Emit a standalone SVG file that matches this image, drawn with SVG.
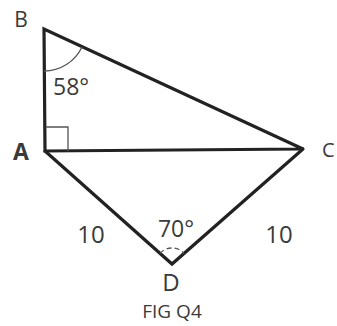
<svg xmlns="http://www.w3.org/2000/svg" width="337" height="326" viewBox="0 0 337 326">
<style>
.edge{stroke:#222;stroke-width:3.2;fill:none;stroke-linejoin:miter;stroke-linecap:round}
.thin{stroke:#555;stroke-width:1.3;fill:none}
.lbl{font-family:"Open Sans","Liberation Sans",sans-serif;fill:#3a3a3a}
</style>
<rect width="337" height="326" fill="#fff"/>
<g id="connectors">
<path class="edge" d="M45,151 L44,29 L303,149 Z"/>
<path class="edge" d="M45,151 L172,264 L303,149"/>
<path class="thin" d="M46,127 H68 V151"/>
<path class="thin" d="M44,71 A42,42 0 0 0 82,47"/>
<path class="thin" d="M160,253.4 A16,16 0 0 1 184,253.4" stroke-dasharray="5,3"/>
</g>
<g id="B"><text class="lbl" x="21" y="27" font-size="21" text-anchor="middle">B</text></g>
<g id="A"><text class="lbl" x="21" y="160" font-size="23" font-weight="bold" text-anchor="middle">A</text></g>
<g id="C"><text class="lbl" x="322" y="157" font-size="20">C</text></g>
<g id="D"><text class="lbl" x="171" y="291" font-size="24" text-anchor="middle">D</text></g>
<g id="angleB"><text class="lbl" x="53" y="95" font-size="23">58°</text></g>
<g id="angleD"><text class="lbl" x="176" y="237" font-size="23" text-anchor="middle">70°</text></g>
<g id="sideAD"><text class="lbl" x="91" y="243" font-size="24" text-anchor="middle">10</text></g>
<g id="sideCD"><text class="lbl" x="279" y="243" font-size="24" text-anchor="middle">10</text></g>
<g id="caption"><text class="lbl" x="172" y="318" font-size="19" text-anchor="middle">FIG Q4</text></g>
</svg>
